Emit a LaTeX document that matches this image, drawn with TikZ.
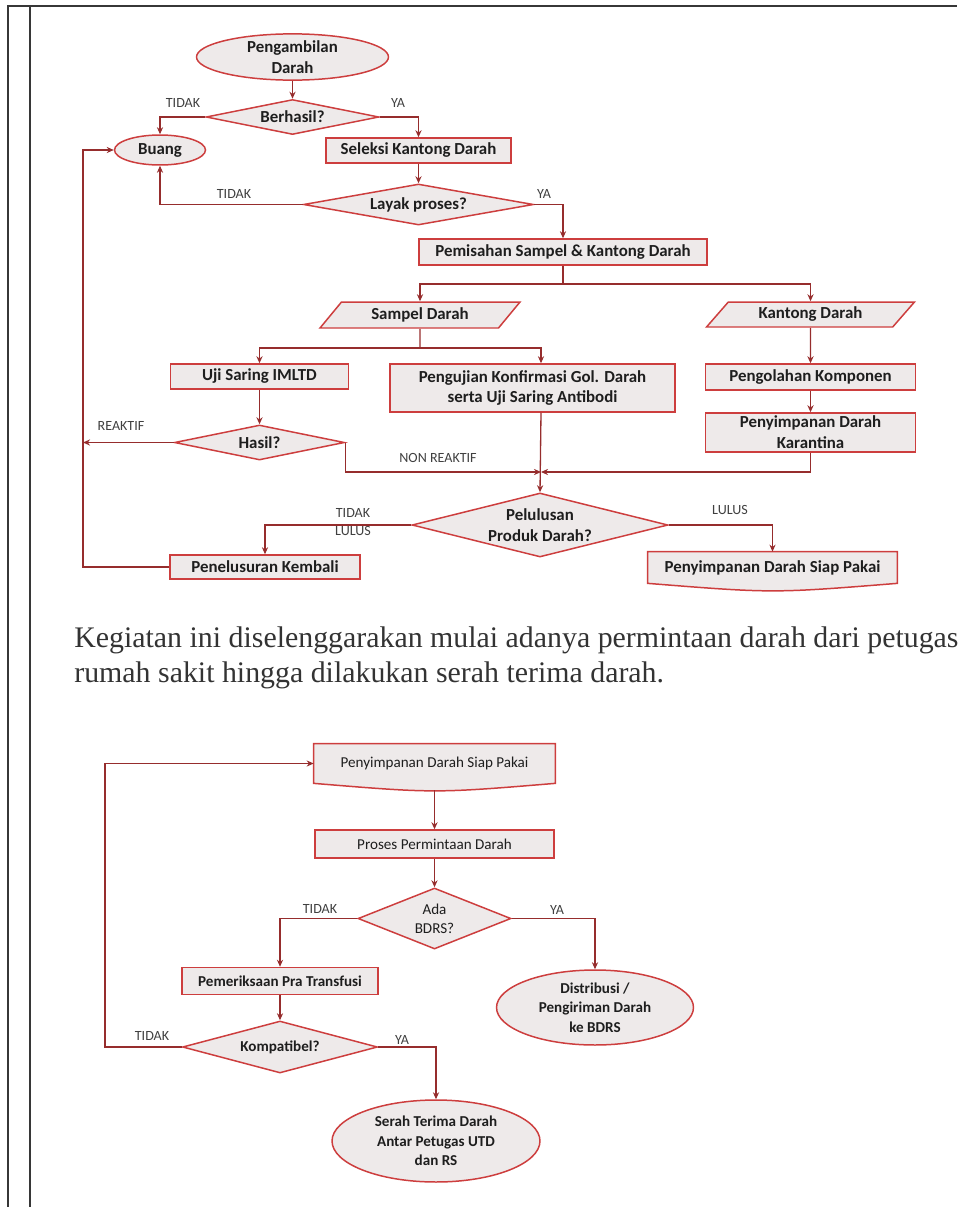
\documentclass[tikz,border=0pt]{standalone}
\usepackage{fontspec}
\setmainfont{Liberation Serif}
\newfontfamily\chartfont{Carlito}
\usetikzlibrary{shapes.geometric,arrows.meta,backgrounds}
\definecolor{bordred}{RGB}{205,62,62}
\definecolor{linered}{RGB}{150,45,45}
\definecolor{boxfill}{RGB}{238,234,234}
\definecolor{txt}{RGB}{30,30,30}
\definecolor{framegray}{RGB}{55,55,55}
\tikzstyle{every node}=[font=\chartfont\bfseries\fontsize{9.6}{11.8}\selectfont,text=txt]
\tikzstyle{proc}=[rectangle,draw=bordred,fill=boxfill,line width=0.85pt,inner sep=0pt,align=center]
\tikzstyle{decide}=[diamond,draw=bordred,fill=boxfill,line width=0.85pt,inner sep=0pt,align=center]
\tikzstyle{term}=[ellipse,draw=bordred,fill=boxfill,line width=0.85pt,inner sep=0pt,align=center]
\tikzstyle{inout}=[trapezium,trapezium left angle=34,trapezium right angle=146,trapezium stretches body,draw=bordred,fill=boxfill,line width=0.85pt,inner sep=0pt,align=center]
\tikzstyle{docnode}=[rectangle,inner sep=0pt,align=center]
\tikzstyle{docline}=[draw=bordred,fill=boxfill,line width=0.85pt]
\tikzstyle{conn}=[draw=linered,line width=0.75pt,-{Stealth[length=4pt,width=3.5pt]}]
\tikzstyle{wire}=[draw=linered,line width=0.75pt]
\tikzstyle{lbl}=[font=\chartfont\fontsize{8}{10.5}\selectfont,text=black!75,align=center]
\tikzstyle{lowtxt}=[font=\chartfont\fontsize{8.6}{11}\selectfont]
\tikzstyle{lowbold}=[font=\chartfont\bfseries\fontsize{8.6}{11}\selectfont]
\tikzstyle{para}=[font=\rmfamily\fontsize{17}{20}\selectfont,text=black!80,inner sep=0pt,anchor=west]
\begin{document}
\begin{tikzpicture}[x=0.02cm,y=-0.02cm]
\useasboundingbox (0,0) rectangle (957,1207);
% frame
\draw[framegray,line width=1.4pt] (8,1207)--(8,6)--(957,6) (30,6)--(30,1207);

% upper chart
\node[term,minimum width=3.84cm,minimum height=0.88cm] (ambil) at (292.5,57) {Pengambilan\\Darah};
\node[decide,aspect=4.9,minimum width=3.46cm,minimum height=0.70cm] (berhasil) at (292.5,117) {Berhasil?};
\node[term,minimum width=1.82cm,minimum height=0.60cm] (buang) at (160,150) {Buang};
\node[proc,minimum width=3.70cm,minimum height=0.50cm] (seleksi) at (418.5,150.5) {Seleksi Kantong Darah};
\node[decide,aspect=5.6,minimum width=4.60cm,minimum height=0.82cm] (layak) at (418.5,204.5) {Layak proses?};
\node[proc,minimum width=5.76cm,minimum height=0.52cm] (pisah) at (563,252) {Pemisahan Sampel \& Kantong Darah};
\node[inout,minimum width=4.00cm,minimum height=0.52cm] (sampel) at (420,315) {Sampel Darah};
\node[inout,minimum width=4.16cm,minimum height=0.50cm] (kantong) at (810.5,314.5) {Kantong Darah};
\node[proc,minimum width=3.56cm,minimum height=0.50cm] (uji) at (259.5,376.5) {Uji Saring IMLTD};
\node[proc,minimum width=5.70cm,minimum height=0.96cm] (konfirmasi) at (532.5,388) {Pengujian Konfirmasi Gol. Darah\\serta Uji Saring Antibodi};
\node[proc,minimum width=4.20cm,minimum height=0.52cm] (olah) at (810.5,377) {Pengolahan Komponen};
\node[proc,minimum width=4.20cm,minimum height=0.78cm] (karantina) at (810.5,432.5) {Penyimpanan Darah\\Karantina};
\node[decide,aspect=4.86,minimum width=3.40cm,minimum height=0.70cm] (hasil) at (259.5,442.5) {Hasil?};
\node[decide,aspect=4,minimum width=5.12cm,minimum height=1.28cm] (lulus) at (540,525) {Pelulusan\\Produk Darah?};
\node[proc,minimum width=3.80cm,minimum height=0.48cm] (telusur) at (265,567) {Penelusuran Kembali};
\node[docnode,minimum width=4.98cm,minimum height=0.62cm] (siap) at (772.5,567.5) {Penyimpanan Darah Siap Pakai};
\coordinate (loop1) at (83,567);
\coordinate (join) at (541,472);
\coordinate (split1) at (563,284);
\coordinate (split2) at (420,348);

\draw[conn] (ambil) -- (berhasil);
\draw[conn] (berhasil.west) -| (buang.north);
\draw[conn] (berhasil.east) -| (seleksi.north);
\draw[conn] (seleksi) -- (layak);
\draw[conn] (layak.west) -| (buang.south);
\draw[conn] (layak.east) -| (pisah.north);
\draw[wire] (pisah.south) -- (split1);
\draw[conn] (split1) -| (sampel.north);
\draw[conn] (split1) -| (kantong.north);
\draw[wire] (sampel.south) -- (split2);
\draw[conn] (split2) -| (uji.north);
\draw[conn] (split2) -| (konfirmasi.north -| join);
\draw[conn] (kantong) -- (olah);
\draw[conn] (olah) -- (karantina);
\draw[conn] (uji) -- (hasil);
\draw[conn] (hasil.west) -- (hasil.west -| loop1);
\draw[conn] (hasil.east) |- (join);
\draw[conn] (karantina.south) |- (join);
\draw[conn] (konfirmasi.south -| join) -- (lulus.north);
\draw[conn] (lulus.west) -| (telusur.north);
\draw[conn] (lulus.east) -| (siap.north);
\draw[conn] (telusur.west) -- (loop1) |- (buang.west);

\node[lbl] (tidak1) at (183,103) {TIDAK};
\node[lbl] (ya1) at (398,103) {YA};
\node[lbl] (tidak2) at (234,194) {TIDAK};
\node[lbl] (ya2) at (544,194) {YA};
\node[lbl] (reaktif) at (121,426) {REAKTIF};
\node[lbl] (nonreaktif) at (438,458) {NON REAKTIF};
\node[lbl] (tidaklulus) at (353,522) {TIDAK\\LULUS};
\node[lbl] (lulusya) at (730,510) {LULUS};

% text between the charts
\node[para] (kalimat1) at (74,640) {Kegiatan ini diselenggarakan mulai adanya permintaan darah dari petugas};
\node[para] (kalimat2) at (74,675) {rumah sakit hingga dilakukan serah terima darah.};

% lower chart
\node[docnode,lowtxt,minimum width=4.82cm,minimum height=0.78cm] (simpan) at (434.5,763.5) {Penyimpanan Darah Siap Pakai};
\node[proc,lowtxt,minimum width=4.78cm,minimum height=0.56cm] (minta) at (434.5,844) {Proses Permintaan Darah};
\node[decide,lowtxt,aspect=2.5,minimum width=3.06cm,minimum height=1.22cm] (ada) at (434.5,918.5) {Ada\\BDRS?};
\node[proc,lowbold,minimum width=3.92cm,minimum height=0.54cm] (periksa) at (280,981) {Pemeriksaan Pra Transfusi};
\node[decide,lowbold,aspect=3.75,minimum width=3.90cm,minimum height=1.04cm] (kompat) at (280,1047) {Kompatibel?};
\node[term,lowbold,minimum width=3.94cm,minimum height=1.50cm] (kirim) at (595,1007.5) {Distribusi /\\Pengiriman Darah\\ke BDRS};
\node[term,lowbold,minimum width=4.16cm,minimum height=1.64cm] (serah) at (436,1141) {Serah Terima Darah\\Antar Petugas UTD\\dan RS};
\coordinate (loop2) at (105,1047);

\draw[conn] ([yshift=-0.14cm]simpan.south) -- (minta);
\draw[conn] (minta) -- (ada);
\draw[conn] (ada.west) -| (periksa.north);
\draw[conn] (ada.east) -| (kirim.north);
\draw[conn] (periksa) -- (kompat);
\draw[conn] (kompat.east) -| (serah.north);
\draw[conn] (kompat.west) -- (loop2) |- (simpan.west);

\node[lbl] (tidak4) at (320,909) {TIDAK};
\node[lbl] (ya4) at (557,910) {YA};
\node[lbl] (tidak5) at (152,1036) {TIDAK};
\node[lbl] (ya5) at (402,1040) {YA};

\begin{scope}[on background layer]
\draw[docline] (siap.south west) -- (siap.north west) -- (siap.north east) -- (siap.south east) .. controls +(-124.5,10) .. (siap.south west) -- cycle;
\draw[docline] (simpan.south west) -- (simpan.north west) -- (simpan.north east) -- (simpan.south east) .. controls +(-120.5,10) .. (simpan.south west) -- cycle;
\end{scope}
\end{tikzpicture}
\end{document}
